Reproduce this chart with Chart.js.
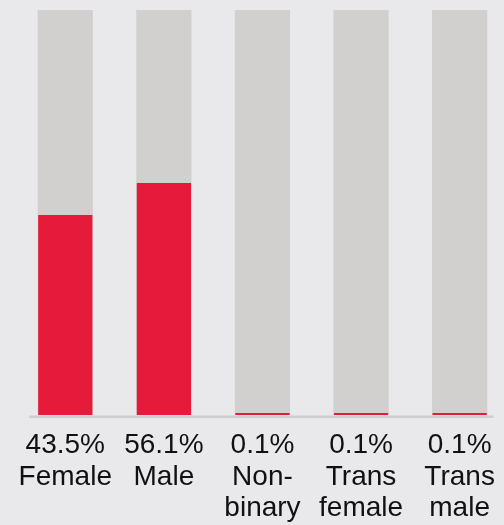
<!DOCTYPE html>
<html>
<head>
<meta charset="utf-8">
<script src="https://cdn.jsdelivr.net/npm/chart.js@4"></script>
<style>
  html, body { margin: 0; padding: 0; background: #e9e8ea; overflow: hidden; }
  #wrap { width: 504px; height: 525px; overflow: hidden; }
</style>
</head>
<body>
<div id="wrap"><canvas id="chart" width="510" height="525"></canvas></div>
<script>
// Categories, shown share and bar heights
const categories = [['Female'], ['Male'], ['Non-', 'binary'], ['Trans', 'female'], ['Trans', 'male']];
const shareLabels = ['43.5%', '56.1%', '0.1%', '0.1%', '0.1%'];
const barValues = [49.4, 57.3, 0.5, 0.5, 0.5];
const fullValues = [100, 100, 100, 100, 100];

const RED = '#e61a3b';
const GREY = '#d1d0ce';

// Thin baseline drawn under the bars, a bit inside the outer bars
const baseline = {
    id: 'baseline',
    beforeDatasetsDraw(chart) {
        const x = chart.scales.x;
        const y = chart.scales.y.getPixelForValue(0);
        const ctx = chart.ctx;
        ctx.save();
        ctx.strokeStyle = '#cfcecc';
        ctx.lineWidth = 2.5;
        ctx.beginPath();
        ctx.moveTo(x.getPixelForValue(0) - 36, y + 1.8);
        ctx.lineTo(x.getPixelForValue(categories.length - 1) + 34, y + 1.8);
        ctx.stroke();
        ctx.restore();
    }
};

new Chart(document.getElementById('chart'), {
    type: 'bar',
    data: {
        labels: categories.map((c, i) => [shareLabels[i], ...c]),
        datasets: [
            {
                data: barValues,
                backgroundColor: RED,
                grouped: false,
                order: 0,
                barPercentage: 0.55,
                categoryPercentage: 1
            },
            {
                data: fullValues,
                backgroundColor: GREY,
                grouped: false,
                order: 1,
                barPercentage: 0.56,
                categoryPercentage: 1
            }
        ]
    },
    options: {
        responsive: false,
        animation: false,
        layout: { padding: { left: 16, right: 1, top: 10, bottom: 0 } },
        plugins: { legend: { display: false }, tooltip: { enabled: false } },
        scales: {
            x: {
                grid: { display: false, drawTicks: false },
                border: { display: false },
                ticks: {
                    color: '#111',
                    padding: 15,
                    maxRotation: 0,
                    autoSkip: false,
                    font: { family: "'Liberation Sans', Arial, sans-serif", size: 28, lineHeight: 1.125 }
                },
                afterFit: s => { s.height = 110; }
            },
            y: {
                display: false,
                min: 0,
                max: 100
            }
        }
    },
    plugins: [baseline]
});
</script>
</body>
</html>
